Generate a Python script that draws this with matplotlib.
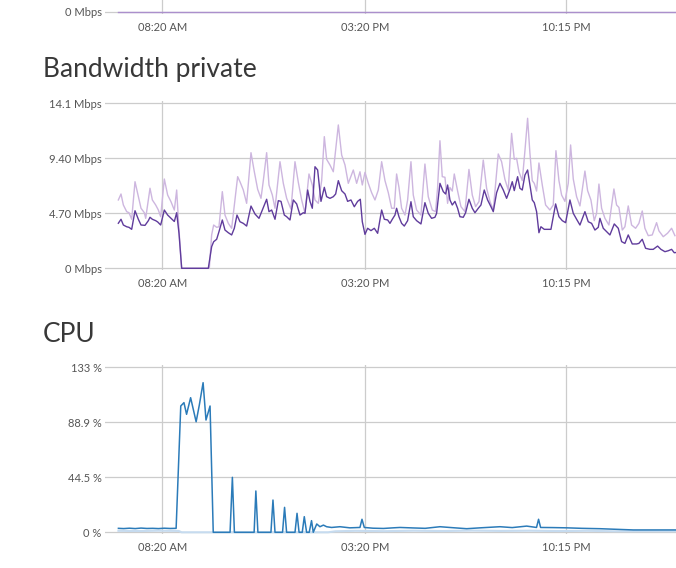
import matplotlib
matplotlib.use("Agg")
import matplotlib.pyplot as plt

plt.rcParams['font.family'] = ['Lato', 'DejaVu Sans']

# time axis in hours (24+ = after midnight)
tick_hours = [8 + 20/60, 15 + 20/60, 22 + 15/60]
tick_labels = ['08:20 AM', '03:20 PM', '10:15 PM']
x_range = (6.357, 26.05)

# top panel (only bottom edge visible)
top_hours = [6.82, 10.0, 15.0, 20.0, 26.05]
top_vals = [0, 0, 0, 0, 0]

# Bandwidth private - dark series (Mbps)
bw_dark_hours = [
    6.817, 6.909, 6.990, 7.105, 7.185, 7.277, 7.392, 7.507, 7.599, 7.737,
    7.852, 7.909, 7.990, 8.105, 8.174, 8.277, 8.403, 8.518, 8.633, 8.748,
    8.829, 8.909, 9.001, 9.920, 10.035, 10.104, 10.208, 10.288, 10.403, 10.495,
    10.610, 10.725, 10.817, 10.909, 11.012, 11.127, 11.242, 11.392,
    11.530, 11.668, 11.783, 11.932, 12.013, 12.105, 12.220, 12.335, 12.427, 12.541,
    12.622, 12.737, 12.852, 12.967, 13.082, 13.197, 13.254, 13.346, 13.427, 13.507,
    13.599, 13.691, 13.806, 13.921, 14.001, 14.116, 14.231, 14.312, 14.404, 14.519,
    14.634, 14.725, 14.840, 14.955, 15.070, 15.162, 15.231, 15.323, 15.415, 15.530,
    15.645, 15.760, 15.898, 15.990, 16.105, 16.185, 16.266,
    16.357, 16.414, 16.495, 16.587, 16.679, 16.794, 16.909, 16.989, 17.104, 17.254,
    17.391, 17.506, 17.621, 17.736, 17.794, 17.909, 18.024, 18.104, 18.173, 18.254,
    18.334, 18.426, 18.518, 18.598, 18.713, 18.794, 18.909, 19.024, 19.116, 19.231,
    19.323, 19.437, 19.552, 19.667, 19.748, 19.863, 19.978, 20.093, 20.208, 20.323,
    20.403, 20.472, 20.587, 20.667, 20.748, 20.840, 20.932, 21.012, 21.093, 21.162,
    21.242, 21.323, 21.392, 21.507, 21.737, 21.898, 22.013, 22.128, 22.242, 22.392,
    22.507, 22.622, 22.737, 22.909, 23.024, 23.139, 23.254, 23.369, 23.426, 23.541,
    23.656, 23.771, 23.921, 24.059, 24.174, 24.288, 24.403, 24.541, 24.691, 24.771,
    24.886, 25.001, 25.150, 25.265, 25.415, 25.530, 25.668, 25.783, 25.898, 25.990,
    26.05]
bw_dark_vals = [
    3.85, 4.19, 3.70, 3.55, 3.50, 3.33, 4.92, 4.19, 3.70, 3.67,
    4.07, 4.36, 4.19, 4.07, 3.96, 3.70, 4.98, 4.55, 4.27, 4.00,
    4.75, 2.99, 0.00, 0.00, 1.85, 2.27, 2.48, 3.13, 4.13, 3.27,
    3.04, 2.85, 3.42, 4.55, 3.98, 3.84, 3.61, 5.32,
    4.64, 4.27, 4.98, 5.90, 4.84, 4.98, 4.19, 5.78, 5.72, 4.55,
    4.41, 4.13, 5.84, 5.50, 4.55, 4.75, 4.70, 6.69, 5.72, 5.13,
    8.68, 8.40, 5.72, 6.92, 6.12, 5.98, 6.12, 6.35, 7.49, 6.63,
    6.35, 5.72, 5.84, 5.26, 5.72, 5.90, 3.98, 2.90, 3.42, 3.22,
    3.42, 2.99, 4.98, 4.19, 4.13, 3.84, 4.19,
    4.55, 5.13, 4.41, 3.84, 3.61, 4.07, 5.69, 4.41, 4.07, 3.79,
    5.61, 4.70, 4.27, 4.36, 4.70, 7.26, 6.55, 6.35, 7.12, 5.84,
    5.41, 5.72, 5.13, 4.41, 4.36, 4.75, 5.90, 5.13, 4.75, 5.13,
    5.41, 6.69, 5.84, 5.27, 4.84, 6.46, 7.26, 6.69, 5.98, 6.75,
    7.40, 6.64, 7.83, 6.84, 6.69, 7.97, 8.40, 7.12, 5.84, 5.61,
    4.84, 3.04, 3.55, 3.33, 3.33, 5.50, 4.41, 4.07, 3.90, 5.84,
    4.70, 4.19, 3.70, 4.84, 3.98, 3.84, 3.27, 3.50, 4.27, 3.42,
    3.13, 2.85, 3.79, 3.42, 2.28, 2.13, 2.85, 2.08, 2.08, 2.13,
    2.48, 1.71, 1.62, 1.62, 1.90, 1.62, 1.42, 1.50, 1.62, 1.33,
    1.35]

# Bandwidth private - light series (Mbps)
bw_light_hours = [
    6.817, 6.909, 6.990, 7.105, 7.185, 7.277, 7.392, 7.507, 7.599, 7.714,
    7.760, 7.909, 7.990, 8.105, 8.197, 8.277, 8.403, 8.518, 8.633, 8.748,
    8.829, 8.909, 9.001, 9.955, 10.035, 10.104, 10.208, 10.288, 10.403, 10.495,
    10.610, 10.725, 10.817, 10.932, 11.012, 11.127, 11.242, 11.392, 11.507,
    11.622, 11.737, 11.817, 11.932, 12.013, 12.128, 12.220, 12.392, 12.507, 12.622,
    12.771, 12.909, 13.024, 13.139, 13.254, 13.392, 13.507, 13.599, 13.714, 13.829,
    13.921, 14.001, 14.116, 14.231, 14.404, 14.519, 14.634, 14.748, 14.921, 15.036,
    15.151, 15.231, 15.323, 15.438, 15.553, 15.668, 15.783, 15.898, 16.013, 16.128,
    16.243, 16.334,
    16.414, 16.495, 16.587, 16.702, 16.794, 16.909, 16.989, 17.104, 17.254, 17.391,
    17.506, 17.644, 17.759, 17.828, 17.909, 17.989, 18.081, 18.173, 18.254, 18.334,
    18.403, 18.518, 18.633, 18.771, 18.909, 19.024, 19.139, 19.254, 19.403, 19.518,
    19.633, 19.748, 19.920, 20.035, 20.150, 20.265, 20.380, 20.472, 20.552, 20.633,
    20.748, 20.840, 20.932, 21.012, 21.093, 21.162,
    21.242, 21.323, 21.438, 21.553, 21.702, 21.817, 21.909, 22.013, 22.105, 22.219,
    22.334, 22.415, 22.507, 22.622, 22.737, 22.909, 23.001, 23.116, 23.231, 23.311,
    23.392, 23.484, 23.599, 23.737, 23.909, 24.001, 24.082, 24.197, 24.288, 24.403,
    24.518, 24.656, 24.771, 24.886, 24.978, 25.093, 25.231, 25.380, 25.461, 25.610,
    25.760, 25.898, 26.013]
bw_light_vals = [
    5.84, 6.35, 5.41, 4.84, 4.75, 4.19, 7.40, 6.12, 5.13, 4.75,
    4.27, 6.84, 5.84, 5.41, 4.98, 4.41, 7.63, 6.26, 5.69, 4.98,
    6.69, 3.27, 0.00, 0.00, 2.85, 3.70, 3.50, 3.55, 6.55, 4.55,
    3.84, 3.42, 5.41, 7.83, 7.40, 6.69, 5.55, 9.88, 8.25,
    6.75, 5.98, 7.49, 9.88, 7.12, 6.26, 5.13, 9.11, 7.26, 5.98,
    5.05, 9.11, 7.35, 5.84, 4.70, 8.06, 7.12, 5.84, 5.55, 7.49,
    11.25, 9.31, 8.83, 8.25, 12.25, 9.68, 8.83, 7.26, 8.40, 7.26,
    8.25, 7.12, 8.20, 7.26, 6.46, 5.84, 6.69, 9.11, 7.49, 6.46,
    5.13, 5.13,
    8.06, 6.92, 5.13, 4.55, 5.84, 9.11, 6.26, 4.98, 4.55, 8.91,
    6.12, 4.98, 4.84, 6.92, 10.90, 7.83, 7.78, 5.55, 6.90, 6.60,
    8.06, 6.60, 5.27, 4.84, 8.45, 6.26, 5.27, 5.70, 9.25, 6.84,
    5.72, 4.98, 9.77, 9.11, 7.60, 6.69, 11.53, 9.31, 9.40, 8.25,
    7.49, 10.05, 12.82, 9.83, 7.49, 7.26,
    6.60, 9.00, 7.12, 5.41, 4.98, 5.41, 10.05, 7.49, 6.26, 5.72,
    7.26, 10.54, 7.63, 6.12, 5.33, 8.31, 6.64, 5.84, 4.07, 4.70,
    7.20, 5.13, 4.27, 3.70, 6.78, 5.41, 5.20, 3.27, 3.55, 5.33,
    3.70, 3.42, 3.84, 4.90, 3.42, 2.79, 2.85, 3.90, 3.20, 2.70,
    3.00, 3.42, 2.79]

bw_ticks = [0, 4.7, 9.4, 14.1]
bw_ticklabels = ['0 Mbps', '4.70 Mbps', '9.40 Mbps', '14.1 Mbps']

# CPU (%)
cpu_hours = [
    6.82, 7.00, 7.20, 7.40, 7.60, 7.80, 8.00, 8.20, 8.40, 8.60,
    8.81, 8.97, 9.08, 9.17, 9.31, 9.50, 9.61, 9.74, 9.84, 9.98,
    10.09, 10.67, 10.75, 10.82, 11.50, 11.56, 11.63, 12.08, 12.15, 12.22,
    12.48, 12.55, 12.62, 12.91, 12.98, 13.05, 13.16, 13.23, 13.31, 13.40,
    13.48, 13.54, 13.66, 13.77, 13.89, 14.00, 14.17, 14.46, 14.80, 15.15,
    15.22, 15.30, 15.60, 15.96, 16.30, 16.53, 17.00, 17.40, 17.91, 18.30,
    18.83, 19.30, 19.98, 20.40, 20.90, 21.24, 21.31, 21.38, 21.80, 22.28,
    22.80, 23.43, 24.00, 24.58, 25.30, 26.05]
cpu_vals = [
    3.2, 3.0, 3.3, 3.0, 3.4, 3.1, 3.2, 3.0, 3.3, 3.1,
    3.2, 101.8, 104.5, 95.1, 108.5, 89.1, 102.6, 120.6, 90.5, 101.8,
    0, 0, 44.3, 0, 0, 33.3, 0, 0, 26.0, 0,
    0, 20.1, 0, 0, 15.3, 0, 0, 12.6, 0, 0,
    9.4, 0, 6.7, 4.5, 5.8, 4.5, 3.9, 4.5, 3.6, 3.9,
    10.5, 3.9, 3.3, 3.1, 3.6, 3.9, 3.5, 3.2, 4.5, 3.8,
    2.9, 3.6, 4.5, 3.8, 5.0, 3.9, 10.5, 3.9, 3.8, 3.6,
    3.2, 2.9, 2.4, 1.9, 1.9, 1.9]

cpu_light_hours = [6.82, 7.5, 8.2, 8.9, 9.0, 14.05, 14.3, 15.0, 16.0, 17.0,
                   18.0, 19.0, 20.0, 21.0, 22.0, 23.0, 24.0, 25.0, 26.05]
cpu_light_vals = [1.2, 1.0, 1.3, 1.1, 0, 0, 0.8, 1.2, 0.9, 1.3,
                  1.0, 1.4, 1.1, 1.3, 1.0, 1.2, 0.8, 0.9, 0.8]

cpu_ticks = [0, 44.5, 88.9, 133]
cpu_ticklabels = ['0 %', '44.5 %', '88.9 %', '133 %']

W, H = 676, 568
fig = plt.figure(figsize=(W / 100, H / 100), dpi=100)
grid_color = '#cccccc'
label_color = '#555555'


def make_axes(top_px, bottom_px):
    ax = fig.add_axes([105 / W, (H - bottom_px) / H, 571 / W, (bottom_px - top_px) / H])
    for s in ax.spines.values():
        s.set_visible(False)
    ax.set_xlim(*x_range)
    ax.set_xticks(tick_hours)
    ax.set_xticklabels(tick_labels)
    ax.tick_params(length=0, labelsize=8, labelcolor=label_color)
    ax.tick_params(axis='x', pad=5.5)
    ax.tick_params(axis='y', pad=2.5)
    ax.grid(True, color=grid_color, lw=0.9)
    ax.set_axisbelow(True)
    return ax


# top (cut off) panel
ax0 = make_axes(-153, 14)
ax0.set_ylim(-0.171, 14.1)
ax0.set_yticks([0])
ax0.set_yticklabels(['0 Mbps'])
ax0.plot(top_hours, top_vals, color='#ab8fcc', lw=1.0)

# bandwidth
fig.text(43 / W, (H - 77.5) / H, 'Bandwidth private', fontsize=19,
         color='#383838', va='baseline')
ax1 = make_axes(101.3, 270.3)
ax1.set_ylim(-0.171, 14.271)
ax1.set_yticks(bw_ticks)
ax1.set_yticklabels(bw_ticklabels)
ax1.plot(bw_light_hours, bw_light_vals, color='#cdb6df', lw=1.0)
ax1.plot(bw_dark_hours, bw_dark_vals, color='#603c9c', lw=1.0)

# cpu
fig.text(43 / W, (H - 342.5) / H, 'CPU', fontsize=19,
         color='#383838', va='baseline')
ax2 = make_axes(365.3, 534.3)
ax2.set_ylim(-1.612, 134.612)
ax2.set_yticks(cpu_ticks)
ax2.set_yticklabels(cpu_ticklabels)
ax2.plot(cpu_light_hours, cpu_light_vals, color='#c6dbef', lw=1.5)
ax2.plot(cpu_hours, cpu_vals, color='#2b7bb9', lw=1.1)

fig.savefig('out.png', dpi=100)
